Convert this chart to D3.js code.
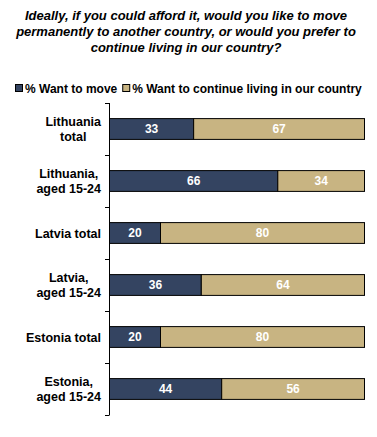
<!DOCTYPE html>
<html>
<head>
<meta charset="utf-8">
<script src="https://cdn.jsdelivr.net/npm/d3@7"></script>
<style>
  body { margin: 0; background: #fff; }
  text { font-family: "Liberation Sans", Arial, sans-serif; }
</style>
</head>
<body>
<div id="chart"></div>
<script>
const categories = [["Lithuania", "total"], ["Lithuania,", "aged 15-24"], ["Latvia total"],
                    ["Latvia,", "aged 15-24"], ["Estonia total"], ["Estonia,", "aged 15-24"]]
const wantToMove = [33, 66, 20, 36, 20, 44]
const continueLiving = [67, 34, 80, 64, 80, 56]
const seriesNames = ["% Want to move", "% Want to continue living in our country"]
const titleLines = ["Ideally, if you could afford it, would you like to move",
                    "permanently to another country, or would you prefer to",
                    "continue living in our country?"]

const colors = ["#344461", "#c8b482"]
let width = 377, height = 437

let svg = d3.select('#chart').append('svg')
    .attr('width', width).attr('height', height)

// title
svg.append('g').selectAll('text')
    .data(titleLines)
    .enter().append('text')
    .attr('x', 186).attr('y', (d, i) => 20 + i * 16)
    .attr('text-anchor', 'middle')
    .style('font-size', '13px').style('font-weight', 'bold').style('font-style', 'italic')
    .text(d => d)

// legend
let legend = svg.append('g').attr('transform', 'translate(15,88)')
let lx = 0
seriesNames.forEach((name, i) => {
    legend.append('rect').attr('x', lx + 0.5).attr('y', -3.5).attr('width', 7).attr('height', 7)
        .attr('fill', colors[i]).attr('stroke', '#000').attr('stroke-width', 1)
    let t = legend.append('text').attr('x', lx + 10).attr('y', 4.5)
        .style('font-size', '12px').style('font-weight', 'bold')
        .text(name)
    lx += 10 + t.node().getComputedTextLength() + 5
})

let x = d3.scaleLinear().domain([0, 100]).range([109.5, 364.5])
let y = d3.scaleBand().domain(d3.range(categories.length)).range([103, 415]).paddingInner(0.6).paddingOuter(0.3)
let yTicks = d3.scaleBand().domain(d3.range(categories.length)).range([103, 415])

let data = categories.map((c, i) => ({ i: i, segs: [
    { s: 0, x0: 0, x1: wantToMove[i], v: wantToMove[i] },
    { s: 1, x0: wantToMove[i], x1: wantToMove[i] + continueLiving[i], v: continueLiving[i] }
]}))

let rows = svg.selectAll('.row').data(data).enter().append('g')
    .attr('transform', d => 'translate(0,' + y(d.i) + ')')

rows.selectAll('rect').data(d => d.segs).enter().append('rect')
    .attr('x', d => x(d.x0)).attr('width', d => x(d.x1) - x(d.x0))
    .attr('y', 0).attr('height', y.bandwidth())
    .attr('fill', d => colors[d.s]).attr('stroke', '#000').attr('stroke-width', 1)

rows.selectAll('.val').data(d => d.segs).enter().append('text')
    .attr('x', d => (x(d.x0) + x(d.x1)) / 2).attr('y', y.bandwidth() / 2 + 4.5)
    .attr('text-anchor', 'middle').attr('fill', '#fff')
    .style('font-size', '12px').style('font-weight', 'bold')
    .text(d => d.v)

// category labels, centred block right-aligned against the axis
categories.forEach((d, i) => {
    let cy = y(i) + y.bandwidth() / 2
    let t = svg.append('text').attr('text-anchor', 'middle')
        .style('font-size', '12.5px').style('font-weight', 'bold')
    let spans = d.map((line, j) => t.append('tspan')
        .attr('y', cy + 4.5 + (j - (d.length - 1) / 2) * 15)
        .text(line))
    let maxW = d3.max(spans, s => s.node().getComputedTextLength())
    spans.forEach(s => s.attr('x', 101 - maxW / 2))
})

// y axis line + ticks
let axis = svg.append('g')
axis.append('line').attr('x1', 109.5).attr('x2', 109.5).attr('y1', 103).attr('y2', 415)
    .attr('stroke', '#000')
axis.selectAll('.tick').data(d3.range(categories.length + 1)).enter().append('line')
    .attr('x1', 105).attr('x2', 109.5)
    .attr('y1', d => Math.round(103 + d * yTicks.step()) + 0.5)
    .attr('y2', d => Math.round(103 + d * yTicks.step()) + 0.5)
    .attr('stroke', '#000')
</script>
</body>
</html>
